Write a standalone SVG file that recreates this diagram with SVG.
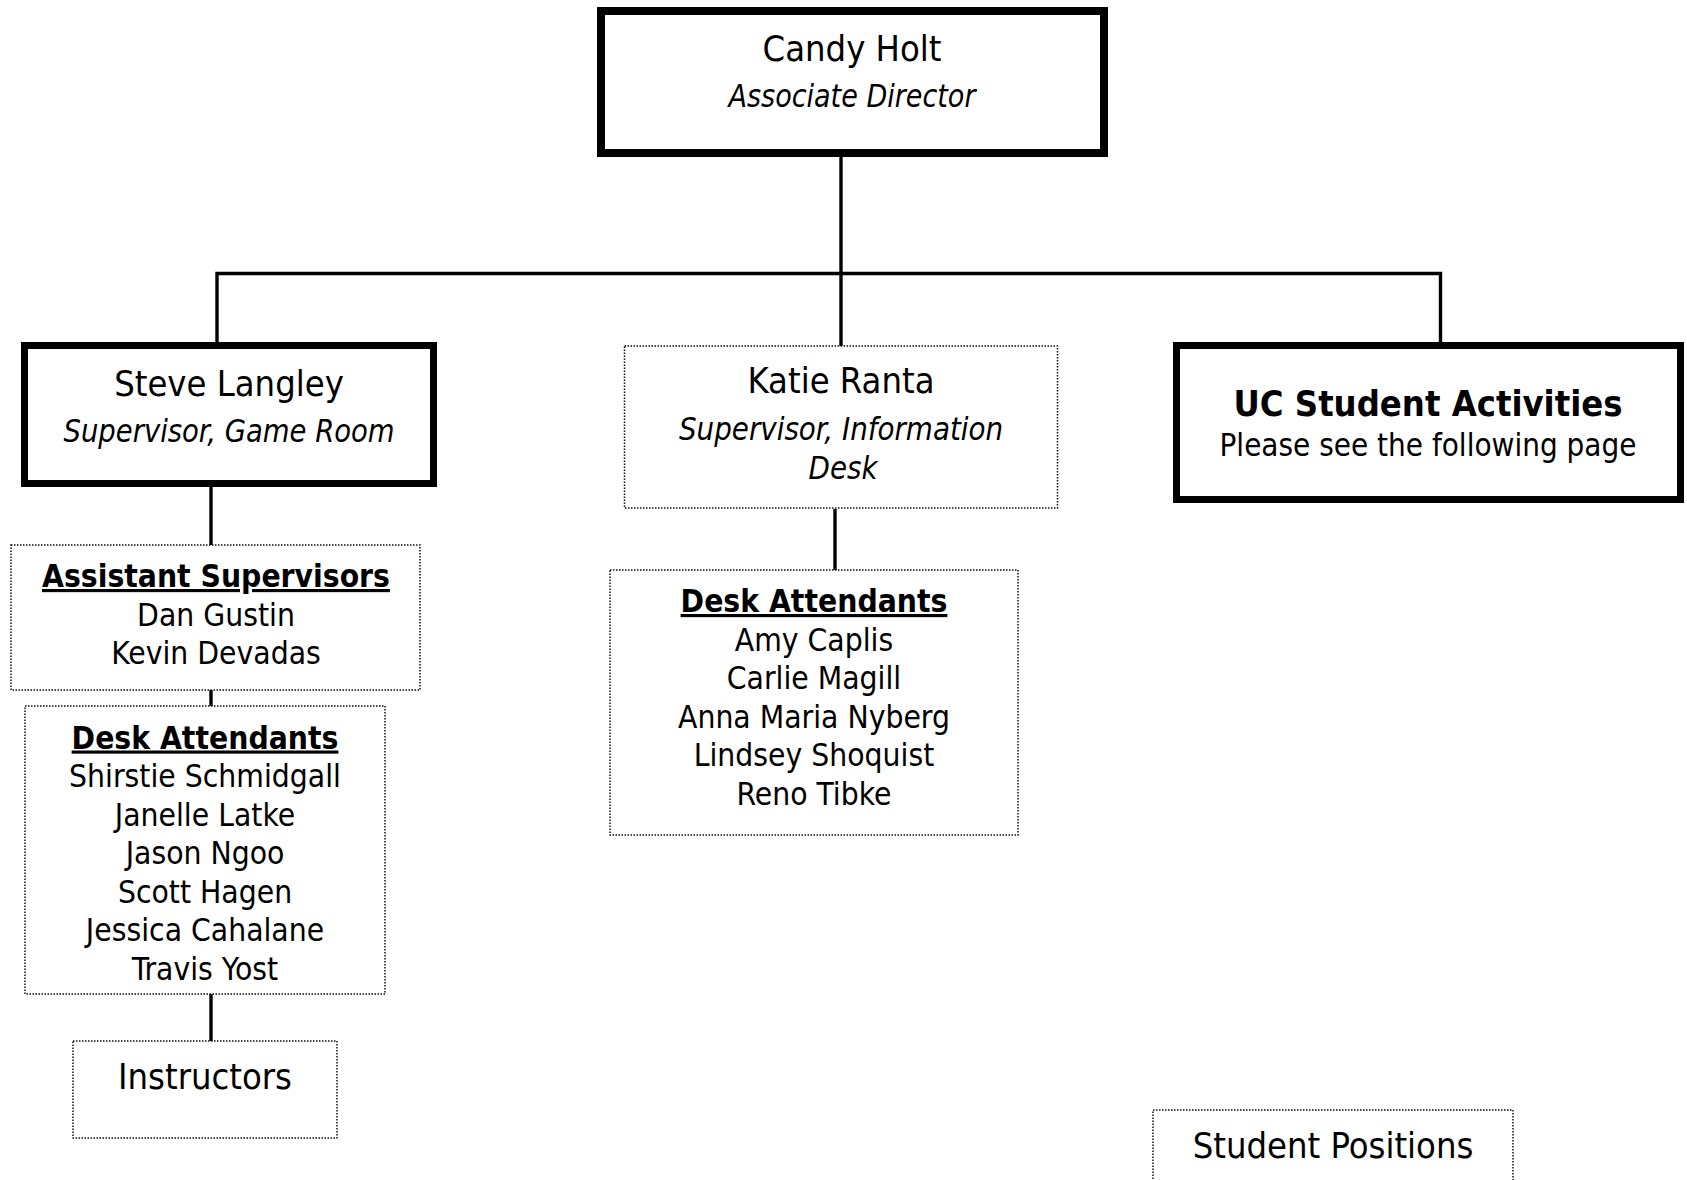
<svg xmlns="http://www.w3.org/2000/svg" width="1687" height="1180" viewBox="0 0 1687 1180">
  <style>
    text { font-family: 'DejaVu Sans Condensed', 'DejaVu Sans', sans-serif; font-stretch: condensed; fill: #000; text-anchor: middle; }
    .name { font-size: 36px; }
    .title { font-size: 32px; font-style: italic; }
    .item { font-size: 31.5px; }
    .head { font-size: 31.5px; font-weight: bold; text-decoration: underline; }
    .big { font-size: 36px; font-weight: bold; }
    .solid { fill: #fff; stroke: #000; }
    .dotted { fill: #fff; stroke: #111; stroke-width: 1.5; stroke-dasharray: 1.5 1.5; }
    .conn { stroke: #000; stroke-width: 3.4; fill: none; }
  </style>

  <rect width="1687" height="1180" fill="#fff"/>

  <!-- reporting lines -->
  <g id="connectors">
    <line class="conn" x1="841" y1="157" x2="841" y2="346"/>
    <polyline class="conn" points="217,343 217,273.5 1440.5,273.5 1440.5,343"/>
    <line class="conn" x1="211" y1="487" x2="211" y2="545"/>
    <line class="conn" x1="211" y1="690" x2="211" y2="706"/>
    <line class="conn" x1="211" y1="994" x2="211" y2="1041"/>
    <line class="conn" x1="835" y1="509" x2="835" y2="570"/>
  </g>

  <g id="candy-holt">
    <rect class="solid" x="601" y="11" width="503" height="142" stroke-width="8"/>
    <text class="name" x="852" y="61">Candy Holt</text>
    <text class="title" x="852" y="107" textLength="247" lengthAdjust="spacingAndGlyphs">Associate Director</text>
  </g>

  <g id="steve-langley">
    <rect class="solid" x="24.5" y="345.5" width="409" height="138" stroke-width="7"/>
    <text class="name" x="229" y="396">Steve Langley</text>
    <text class="title" x="229" y="442" textLength="331" lengthAdjust="spacingAndGlyphs">Supervisor, Game Room</text>
  </g>

  <g id="katie-ranta">
    <rect class="dotted" x="624.5" y="346" width="433" height="162"/>
    <text class="name" x="841" y="393">Katie Ranta</text>
    <text class="title" x="841" y="440" textLength="324" lengthAdjust="spacingAndGlyphs">Supervisor, Information</text>
    <text class="title" x="843" y="479" textLength="69" lengthAdjust="spacingAndGlyphs">Desk</text>
  </g>

  <g id="uc-student-activities">
    <rect class="solid" x="1176.5" y="345.5" width="504" height="154" stroke-width="7"/>
    <text class="big" x="1428" y="415.5">UC Student Activities</text>
    <text class="item" x="1428" y="455.5" textLength="417" lengthAdjust="spacingAndGlyphs">Please see the following page</text>
  </g>

  <g id="assistant-supervisors">
    <rect class="dotted" x="11" y="545" width="409" height="145"/>
    <text class="head" x="216" y="587">Assistant Supervisors</text>
    <text class="item" x="216" y="625.5">Dan Gustin</text>
    <text class="item" x="216" y="664">Kevin Devadas</text>
  </g>

  <g id="game-room-desk-attendants">
    <rect class="dotted" x="25" y="706" width="360" height="288"/>
    <text class="head" x="205" y="748.5">Desk Attendants</text>
    <text class="item" x="205" y="787">Shirstie Schmidgall</text>
    <text class="item" x="205" y="825.5">Janelle Latke</text>
    <text class="item" x="205" y="864">Jason Ngoo</text>
    <text class="item" x="205" y="902.5">Scott Hagen</text>
    <text class="item" x="205" y="941">Jessica Cahalane</text>
    <text class="item" x="205" y="979.5">Travis Yost</text>
  </g>

  <g id="instructors">
    <rect class="dotted" x="73" y="1041" width="264" height="97"/>
    <text class="name" x="205" y="1089">Instructors</text>
  </g>

  <g id="info-desk-attendants">
    <rect class="dotted" x="610" y="570" width="408" height="265"/>
    <text class="head" x="814" y="612">Desk Attendants</text>
    <text class="item" x="814" y="650.5">Amy Caplis</text>
    <text class="item" x="814" y="689">Carlie Magill</text>
    <text class="item" x="814" y="727.5">Anna Maria Nyberg</text>
    <text class="item" x="814" y="766">Lindsey Shoquist</text>
    <text class="item" x="814" y="804.5">Reno Tibke</text>
  </g>

  <g id="student-positions">
    <rect class="dotted" x="1153" y="1110" width="360" height="90"/>
    <text class="name" x="1333" y="1158">Student Positions</text>
  </g>
</svg>
